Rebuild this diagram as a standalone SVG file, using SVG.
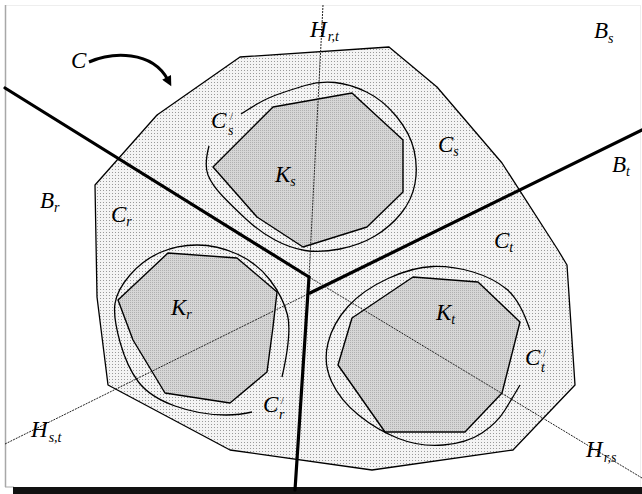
<svg xmlns="http://www.w3.org/2000/svg" width="642" height="494" viewBox="0 0 642 494">
<defs>
<pattern id="dotsC" width="3" height="3" patternUnits="userSpaceOnUse">
<rect width="3" height="3" fill="#f4f4f4"/>
<rect x="1" y="1" width="1" height="1" fill="#9a9a9a"/>
</pattern>
<pattern id="dotsK" width="2" height="2" patternUnits="userSpaceOnUse">
<rect width="2" height="2" fill="#d6d6d6"/>
<rect x="0" y="0" width="1" height="1" fill="#b0b0b0"/>
</pattern>
<marker id="arr" viewBox="0 0 10 10" refX="3" refY="5" markerWidth="13" markerHeight="10" markerUnits="userSpaceOnUse" orient="auto">
<path d="M0,0 L10,5 L0,10 z" fill="#000"/>
</marker>
<style>
.reg{fill:url(#dotsC);stroke:#000;stroke-width:1.3;stroke-linejoin:round}
.k{fill:url(#dotsK);stroke:#000;stroke-width:1.4;stroke-linejoin:round}
.cp{fill:none;stroke:#000;stroke-width:1.3}
.thick{stroke:#000;stroke-width:3.2;fill:none;stroke-linecap:round}
.h{stroke:#222;stroke-width:1;stroke-dasharray:2 1;fill:none}
.lab{font-family:"Liberation Serif","Times New Roman",serif;font-style:italic;font-size:23px;fill:#000}
.sub{font-size:14px}
.pr{font-size:10px;font-style:normal}
</style>
</defs>
<rect width="642" height="494" fill="#fff"/>
<g id="frame">
<line x1="5" y1="5.5" x2="640" y2="5.5" stroke="#eeeeee" stroke-width="1"/>
<line x1="640.5" y1="5" x2="640.5" y2="487" stroke="#eeeeee" stroke-width="1"/>
<line x1="5.5" y1="5" x2="5.5" y2="487" stroke="#a8a8a8" stroke-width="1.5"/>
<line x1="5" y1="487" x2="14" y2="487" stroke="#a8a8a8" stroke-width="1"/>
<rect x="13" y="487" width="629" height="7" fill="#111"/>
</g>
<g id="C">
<polygon class="reg" points="240,57 389,47 437,87 502,163 558,250 567,265 575,385 513,450 372,470 230,450 108,385 97,297 95,185 157,115"/>
</g>
<g id="Ks">
<polygon class="k" points="213,167 273,107 352,93 403,140 403,192 367,227 303,247 257,217"/>
</g>
<g id="Kr">
<polygon class="k" points="168,253 237,258 277,292 273,327 267,372 230,403 165,393 133,340 118,300"/>
</g>
<g id="Kt">
<polygon class="k" points="413,277 478,282 520,322 502,393 465,432 385,432 338,365 352,318"/>
</g>
<g id="Cs-prime">
<path class="cp" d="M209,146 Q204,165 208,175 Q212,185 222.5,196 Q233,207 246.5,219.5 Q260,232 275,240 Q290,248 305,250.5 Q320,253 340,249 Q360,245 375,236 Q390,227 401,213.5 Q412,200 415,183.5 Q418,167 414,150 Q410,133 396.5,116.5 Q383,100 366.5,92 Q350,84 335,82.5 Q320,81 305,85.5 Q290,90 276,95 Q262,100 241,114"/>
</g>
<g id="Cr-prime">
<path class="cp" d="M282,377 Q292,333 287.5,315 Q283,297 270,280 Q257,263 237,254 Q217,245 197,245 Q177,245 160,252.5 Q143,260 130,275 Q117,290 115,303.5 Q113,317 120,342 Q127,367 138.5,382 Q150,397 175,406 Q200,415 226,415 Q240,415 252,412"/>
</g>
<g id="Ct-prime">
<path class="cp" d="M530,330 Q520,300 506.5,289 Q493,278 473,272 Q453,266 433,266.5 Q413,267 388,278.5 Q363,290 348,306.5 Q333,323 328,343 Q323,363 331.5,381.5 Q340,400 358.5,415 Q377,430 398.5,438.5 Q420,447 443.5,445 Q467,443 482,433 Q497,423 505,410 Q513,397 520,385"/>
</g>
<g id="connectors">
<line class="h" x1="323" y1="5" x2="309" y2="277"/>
<line class="h" x1="5" y1="444" x2="310" y2="293"/>
<line class="h" x1="309" y1="277" x2="642" y2="478"/>
<line class="thick" x1="5" y1="88" x2="309" y2="277"/>
<line class="thick" x1="309" y1="277" x2="295" y2="490"/>
<line class="thick" x1="310" y1="293" x2="642" y2="130"/>
<path d="M89,62 C112,52 152,50 168,80" fill="none" stroke="#000" stroke-width="3" marker-end="url(#arr)"/>
</g>
<g id="labels" class="lab">
<text x="71" y="68">C</text>
<text x="310" y="37">H<tspan class="sub" dx="1" dy="4">r,t</tspan></text>
<text x="594" y="38">B<tspan class="sub" dy="5">s</tspan></text>
<text x="211" y="128">C</text><text class="pr" x="230" y="120">/</text><text class="sub" x="228" y="135">s</text>
<text x="275" y="182">K<tspan class="sub" dy="4">s</tspan></text>
<text x="438" y="152">C<tspan class="sub" dy="4">s</tspan></text>
<text x="612" y="172">B<tspan class="sub" dy="4">t</tspan></text>
<text x="40" y="208">B<tspan class="sub" dy="4">r</tspan></text>
<text x="111" y="222">C<tspan class="sub" dy="4">r</tspan></text>
<text x="494" y="248">C<tspan class="sub" dy="4">t</tspan></text>
<text x="171" y="315">K<tspan class="sub" dy="4">r</tspan></text>
<text x="436" y="320">K<tspan class="sub" dy="4">t</tspan></text>
<text x="525" y="365">C</text><text class="pr" x="543" y="357">/</text><text class="sub" x="541" y="372">t</text>
<text x="263" y="412">C</text><text class="pr" x="281" y="404">/</text><text class="sub" x="279" y="419">r</text>
<text x="31" y="437">H<tspan class="sub" dx="1" dy="5">s,t</tspan></text>
<text x="586" y="457">H<tspan class="sub" dx="1" dy="5">r,s</tspan></text>
</g>
</svg>
